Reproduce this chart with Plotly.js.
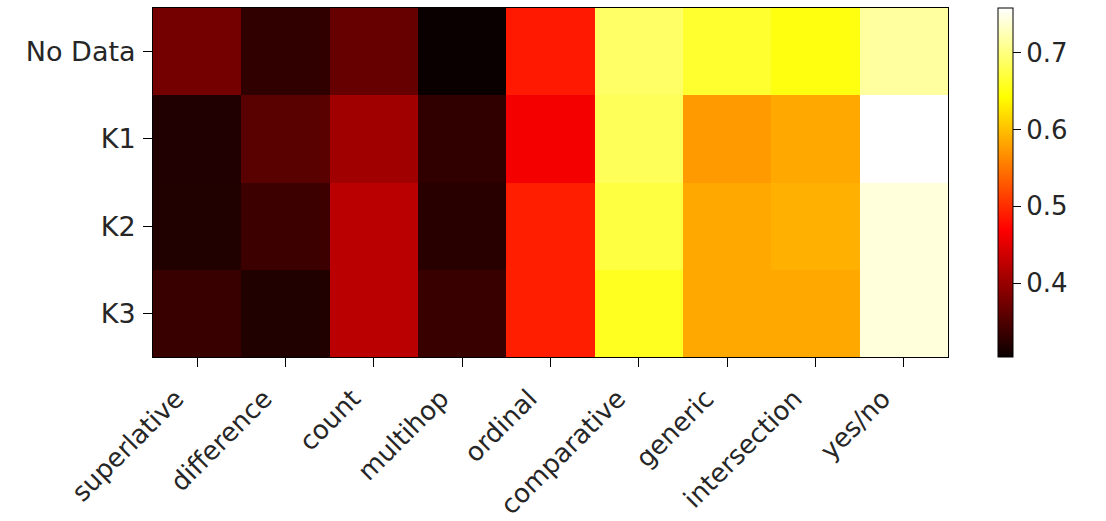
<!DOCTYPE html>
<html>
<head>
<meta charset="utf-8">
<script src="https://cdn.plot.ly/plotly-3.0.1.min.js"></script>
<style>html,body{margin:0;padding:0;background:#fff;}#chart{width:1106px;height:521px;}</style>
</head>
<body>
<div id="chart"></div>
<script>
const categories = ["superlative","difference","count","multihop","ordinal","comparative","generic","intersection","yes/no"];
const rows = ["No Data","K1","K2","K3"];
const noData = [0.376,0.329,0.366,0.304,0.487,0.689,0.664,0.650,0.715];
const k1     = [0.318,0.357,0.406,0.329,0.463,0.683,0.574,0.584,0.758];
const k2     = [0.319,0.337,0.423,0.324,0.491,0.672,0.584,0.589,0.742];
const k3     = [0.335,0.319,0.423,0.335,0.491,0.657,0.584,0.584,0.742];
const colorTicks = [0.4,0.5,0.6,0.7];

const hot = [[0,'rgb(11,0,0)'],[0.365079,'rgb(255,0,0)'],[0.746032,'rgb(255,255,0)'],[1,'rgb(255,255,255)']];
const font = {family:'DejaVu Sans', size:26, color:'#262626'};
const yfont = {family:'DejaVu Sans', size:27, color:'#262626'};

const trace = {
  type:'heatmap',
  x: categories,
  y: rows,
  z: [noData,k1,k2,k3],
  zmin:0.304, zmax:0.758,
  colorscale: hot,
  colorbar:{
    x:1.063, xanchor:'left', xpad:0, ypad:0,
    y:0.5, yanchor:'middle', len:1, lenmode:'fraction',
    thickness:15, outlinewidth:1, outlinecolor:'#000',
    tickvals: colorTicks, ticktext: colorTicks.map(v=>v.toFixed(1)),
    ticks:'outside', ticklen:8, tickcolor:'#000', tickfont:{family:'DejaVu Sans', size:26, color:'#262626'}
  }
};

const layout = {
  width:1106, height:521,
  margin:{l:153, r:158, t:8, b:164},
  paper_bgcolor:'#fff', plot_bgcolor:'#fff',
  font: font,
  xaxis:{
    type:'category', tickangle:-45, ticks:'outside', ticklen:9, tickcolor:'#000',
    ticklabelstandoff:6, ticklabelshift:-21,
    showline:true, mirror:true, linecolor:'#000', linewidth:1,
    showgrid:false, zeroline:false, tickfont:font
  },
  yaxis:{
    type:'category', autorange:'reversed', ticks:'outside', ticklen:9, tickcolor:'#000',
    ticklabelstandoff:2,
    showline:true, mirror:true, linecolor:'#000', linewidth:1,
    showgrid:false, zeroline:false, tickfont:yfont
  }
};

Plotly.newPlot('chart',[trace],layout,{displayModeBar:false, staticPlot:true});
</script>
</body>
</html>
